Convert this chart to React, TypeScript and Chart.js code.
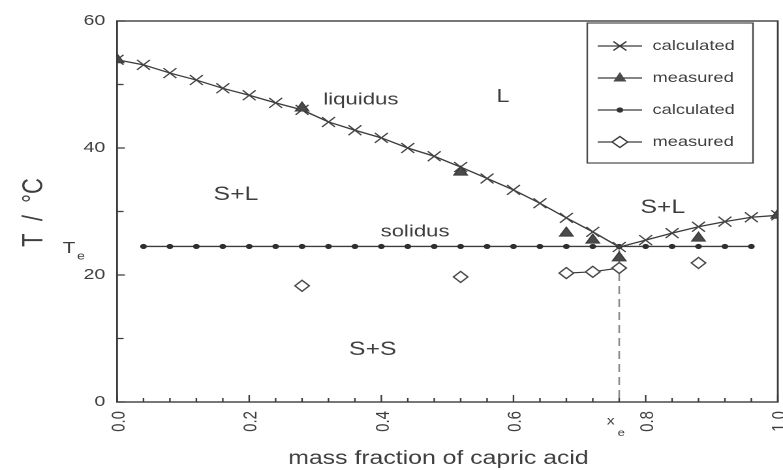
import React, { useEffect, useRef } from 'react';
import { Chart, registerables } from 'chart.js';

Chart.register(...registerables);

// ---- data (mass fraction of capric acid, temperature in °C) ----
const liquidusCalcX = [0, 0.04, 0.08, 0.12, 0.16, 0.2, 0.24, 0.28, 0.32, 0.36, 0.4, 0.44, 0.48, 0.52, 0.56, 0.6, 0.64, 0.68, 0.72, 0.76, 0.8, 0.84, 0.88, 0.92, 0.96, 1.0];
const liquidusCalcT = [53.9, 53.1, 51.8, 50.7, 49.4, 48.3, 47.1, 46.0, 44.1, 42.8, 41.6, 40.0, 38.7, 37.0, 35.2, 33.4, 31.3, 29.0, 26.8, 24.4, 25.5, 26.6, 27.6, 28.4, 29.1, 29.4];

const liquidusMeasX = [0, 0.28, 0.52, 0.68, 0.72, 0.76, 0.88, 1.0];
const liquidusMeasT = [53.9, 46.3, 36.2, 26.6, 25.5, 22.7, 25.8, 29.4];

const solidusCalcX = [0.04, 0.08, 0.12, 0.16, 0.2, 0.24, 0.28, 0.32, 0.36, 0.4, 0.44, 0.48, 0.52, 0.56, 0.6, 0.64, 0.68, 0.72, 0.76, 0.8, 0.84, 0.88, 0.92, 0.96];
const solidusCalcT = [24.5, 24.5, 24.5, 24.5, 24.5, 24.5, 24.5, 24.5, 24.5, 24.5, 24.5, 24.5, 24.5, 24.5, 24.5, 24.5, 24.5, 24.5, 24.5, 24.5, 24.5, 24.5, 24.5, 24.5];

const solidusMeasX = [0.28, 0.52, 0.68, 0.72, 0.76, 0.88];
const solidusMeasT = [18.3, 19.7, 20.3, 20.5, 21.1, 21.9];
const solidusMeasJoined = [false, false, false, true, true, false];

const eutecticX = 0.76;
const eutecticT = 24.4;

const xTickLabels = ['0.0', '0.2', '0.4', '0.6', '0.8', '1.0'];
const yTickLabels = ['0', '20', '40', '60'];
const legendLabels = ['calculated', 'measured', 'calculated', 'measured'];

const regionLabels = [
  { text: 'liquidus', x: 0.369, t: 47.6, size: 17 },
  { text: 'L', x: 0.584, t: 48.0, size: 18 },
  { text: 'S+L', x: 0.18, t: 32.6, size: 19 },
  { text: 'solidus', x: 0.451, t: 26.8, size: 17 },
  { text: 'S+L', x: 0.826, t: 30.6, size: 19 },
  { text: 'S+S', x: 0.387, t: 8.2, size: 19 },
];

// ---- style ----
const FONT = '"Liberation Sans", Arial, Helvetica, sans-serif';
const LINE = '#3c3c3c';
const TEXT = '#3e3e3e';
const W = 600; // logical canvas width (stretched to 783px on screen)
const H = 470;

const isMajorX = (v: number) => Math.abs(v * 5 - Math.round(v * 5)) < 1e-6;

function toPoints(xs: number[], ts: number[]) {
  return xs.map((x, i) => ({ x, y: ts[i] }));
}

function solidusMeasPoints() {
  const out: { x: number; y: number | null }[] = [];
  solidusMeasX.forEach((x, i) => {
    if (i > 0 && !solidusMeasJoined[i]) {
      out.push({ x: (x + solidusMeasX[i - 1]) / 2, y: null });
    }
    out.push({ x, y: solidusMeasT[i] });
  });
  return out;
}

const decorPlugin = {
  id: 'decor',
  afterDraw(chart: any) {
    const { ctx, chartArea: a, scales } = chart;
    const xs = scales.x;
    const ys = scales.y;
    ctx.save();

    // frame
    ctx.strokeStyle = LINE;
    ctx.lineWidth = 1.4;
    ctx.strokeRect(a.left, a.top, a.right - a.left, a.bottom - a.top);

    // inward ticks
    ctx.lineWidth = 1.2;
    ctx.beginPath();
    xs.ticks.forEach((t: any) => {
      const px = xs.getPixelForValue(t.value);
      const len = isMajorX(t.value) ? 7 : 4;
      ctx.moveTo(px, a.bottom);
      ctx.lineTo(px, a.bottom - len);
    });
    ys.ticks.forEach((t: any) => {
      const py = ys.getPixelForValue(t.value);
      const len = t.value % 20 === 0 ? 6 : 5;
      ctx.moveTo(a.left, py);
      ctx.lineTo(a.left + len, py);
    });
    ctx.stroke();

    ctx.fillStyle = TEXT;

    // rotated x tick labels
    ctx.font = `15px ${FONT}`;
    ctx.textAlign = 'right';
    ctx.textBaseline = 'middle';
    xs.ticks.forEach((t: any) => {
      if (!isMajorX(t.value)) return;
      const px = xs.getPixelForValue(t.value);
      ctx.save();
      ctx.translate(px + 1.5, a.bottom + 9);
      ctx.rotate(-Math.PI / 2);
      ctx.fillText(xTickLabels[Math.round(t.value * 5)], 0, 0);
      ctx.restore();
    });

    // region labels
    ctx.textAlign = 'center';
    ctx.textBaseline = 'middle';
    regionLabels.forEach((r) => {
      ctx.font = `${r.size}px ${FONT}`;
      ctx.fillText(r.text, xs.getPixelForValue(r.x), ys.getPixelForValue(r.t));
    });

    // T_e label on y axis
    const yTe = ys.getPixelForValue(solidusCalcT[0]);
    ctx.textAlign = 'left';
    ctx.font = `16px ${FONT}`;
    ctx.fillText('T', 48, yTe + 2);
    ctx.font = `11px ${FONT}`;
    ctx.fillText('e', 59, yTe + 10);

    // x_e label on x axis
    const xXe = xs.getPixelForValue(eutecticX);
    ctx.textAlign = 'center';
    ctx.font = `12px ${FONT}`;
    ctx.fillText('x', xXe - 6.5, a.bottom + 19);
    ctx.font = `10px ${FONT}`;
    ctx.fillText('e', xXe + 1.5, a.bottom + 31);

    // axis titles
    ctx.font = `19px ${FONT}`;
    ctx.textAlign = 'center';
    ctx.textBaseline = 'alphabetic';
    ctx.fillText('mass fraction of capric acid', 336, 464);

    ctx.save();
    ctx.translate(32.5, 212.5);
    ctx.rotate(-Math.PI / 2);
    ctx.font = `22px ${FONT}`;
    ctx.fillText('T  /  °C', 0, 0);
    ctx.restore();

    // legend
    const bx = 450, by = 23, bw = 127, bh = 140;
    ctx.fillStyle = '#ffffff';
    ctx.fillRect(bx, by, bw, bh);
    ctx.strokeStyle = '#4a4a4a';
    ctx.lineWidth = 1.2;
    ctx.strokeRect(bx, by, bw, bh);
    const lx0 = 458, lx1 = 492, cx = 475;
    legendLabels.forEach((label, i) => {
      const cy = 46 + i * 32;
      ctx.strokeStyle = LINE;
      ctx.lineWidth = 1.2;
      ctx.beginPath();
      ctx.moveTo(lx0, cy);
      ctx.lineTo(lx1, cy);
      ctx.stroke();
      if (i === 0) {
        ctx.beginPath();
        ctx.moveTo(cx - 5, cy - 4.5);
        ctx.lineTo(cx + 5, cy + 4.5);
        ctx.moveTo(cx - 5, cy + 4.5);
        ctx.lineTo(cx + 5, cy - 4.5);
        ctx.stroke();
      } else if (i === 1) {
        ctx.fillStyle = '#4a4a4a';
        ctx.beginPath();
        ctx.moveTo(cx, cy - 6);
        ctx.lineTo(cx + 5, cy + 3.5);
        ctx.lineTo(cx - 5, cy + 3.5);
        ctx.closePath();
        ctx.fill();
      } else if (i === 2) {
        ctx.fillStyle = '#333333';
        ctx.beginPath();
        ctx.arc(cx, cy, 2.6, 0, Math.PI * 2);
        ctx.fill();
      } else {
        ctx.fillStyle = '#ffffff';
        ctx.beginPath();
        ctx.moveTo(cx - 6, cy);
        ctx.lineTo(cx, cy - 5.5);
        ctx.lineTo(cx + 6, cy);
        ctx.lineTo(cx, cy + 5.5);
        ctx.closePath();
        ctx.fill();
        ctx.stroke();
      }
      ctx.fillStyle = TEXT;
      ctx.font = `14px ${FONT}`;
      ctx.textAlign = 'left';
      ctx.textBaseline = 'middle';
      ctx.fillText(label, 500, cy);
    });

    ctx.restore();
  },
};

export default function App() {
  const ref = useRef<HTMLCanvasElement>(null);

  useEffect(() => {
    if (!ref.current) return;
    const chart = new Chart(ref.current, {
      type: 'scatter',
      data: {
        datasets: [
          {
            label: 'measured liquidus',
            data: toPoints(liquidusMeasX, liquidusMeasT),
            showLine: false,
            pointStyle: 'triangle',
            pointRadius: 6,
            backgroundColor: '#4a4a4a',
            borderColor: '#3c3c3c',
            pointBorderWidth: 1,
          },
          {
            label: 'measured solidus',
            data: solidusMeasPoints(),
            showLine: true,
            spanGaps: false,
            borderColor: LINE,
            borderWidth: 1.2,
            pointStyle: 'rectRot',
            pointRadius: 5.5,
            pointBackgroundColor: '#ffffff',
            pointBorderColor: '#4a4a4a',
            pointBorderWidth: 1.3,
          },
          {
            label: 'calculated liquidus',
            data: toPoints(liquidusCalcX, liquidusCalcT),
            showLine: true,
            borderColor: LINE,
            borderWidth: 1.3,
            pointStyle: 'crossRot',
            pointRadius: 7,
            pointBorderColor: '#444444',
            pointBorderWidth: 1.2,
          },
          {
            label: 'calculated solidus',
            data: toPoints(solidusCalcX, solidusCalcT),
            showLine: true,
            borderColor: LINE,
            borderWidth: 1.3,
            pointStyle: 'circle',
            pointRadius: 2.6,
            pointBackgroundColor: '#2e2e2e',
            pointBorderColor: '#2e2e2e',
            pointBorderWidth: 0,
          },
          {
            label: 'eutectic',
            data: [
              { x: eutecticX, y: eutecticT },
              { x: eutecticX, y: 0 },
            ],
            showLine: true,
            borderColor: '#8a8a8a',
            borderWidth: 1.3,
            borderDash: [8, 5],
            pointRadius: 0,
          },
        ],
      },
      options: {
        animation: false,
        responsive: false,
        devicePixelRatio: 2,
        layout: { autoPadding: false, padding: { top: 21, right: 4, bottom: 0, left: 0 } },
        plugins: {
          legend: { display: false },
          tooltip: { enabled: false },
        },
        scales: {
          x: {
            type: 'linear',
            min: 0,
            max: 1,
            afterFit: (s: any) => {
              s.height = 68;
              s.paddingLeft = 0;
              s.paddingRight = 0;
            },
            grid: { display: false, drawTicks: false, tickLength: 0 },
            border: { display: false },
            ticks: {
              display: false,
              stepSize: 0.04,
              autoSkip: false,
            },
          },
          y: {
            type: 'linear',
            min: 0,
            max: 60,
            afterFit: (s: any) => {
              s.width = 89.7;
              s.paddingTop = 0;
              s.paddingBottom = 0;
            },
            grid: { display: false, drawTicks: false, tickLength: 0 },
            border: { display: false },
            ticks: {
              stepSize: 10,
              autoSkip: false,
              padding: 9,
              color: TEXT,
              font: { family: FONT, size: 15 },
              callback: (v: any) => (Number(v) % 20 === 0 ? yTickLabels[Number(v) / 20] : ''),
            },
          },
        },
      },
      plugins: [decorPlugin],
    } as any);
    return () => chart.destroy();
  }, []);

  return (
    <div style={{ position: 'absolute', left: 0, top: 0, width: 783, height: 470, background: '#ffffff' }}>
      <canvas ref={ref} width={W} height={H} style={{ width: '783px', height: '470px', display: 'block' }} />
    </div>
  );
}
